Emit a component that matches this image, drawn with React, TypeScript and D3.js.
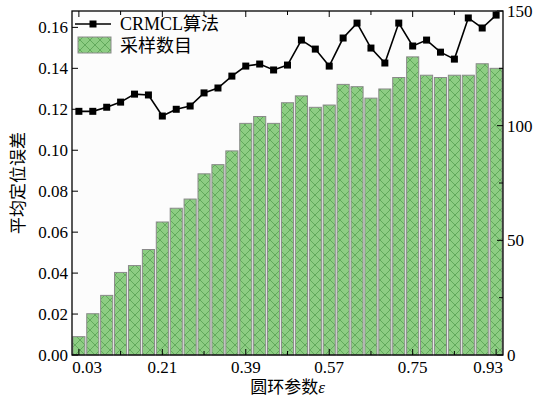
import React from 'react';
import * as d3 from 'd3';

// ring parameter epsilon (x categories)
const epsilons = ['0.03', '0.06', '0.09', '0.12', '0.15', '0.18', '0.21', '0.24', '0.27', '0.30', '0.33',
  '0.36', '0.39', '0.42', '0.45', '0.48', '0.51', '0.54', '0.57', '0.60', '0.63', '0.66', '0.69', '0.72',
  '0.75', '0.78', '0.81', '0.84', '0.87', '0.90', '0.93'];

// CRMCL mean localization error (left axis)
const crmclError = [0.119, 0.119, 0.121, 0.1235, 0.1274, 0.127, 0.1167, 0.120, 0.1216, 0.128, 0.1304,
  0.1362, 0.1411, 0.1421, 0.1392, 0.1416, 0.1538, 0.1494, 0.1411, 0.1548, 0.1621, 0.1499, 0.1426,
  0.1621, 0.1509, 0.1538, 0.1479, 0.1445, 0.1646, 0.1597, 0.166];

// number of samples (right axis)
const sampleCount = [8, 18, 26, 36, 39, 46, 58, 64, 68, 79, 83, 89, 101, 104, 101, 110, 113, 108, 109,
  118, 117, 112, 116, 121, 130, 122, 121, 122, 122, 127, 125];

const leftTicks = [0, 0.02, 0.04, 0.06, 0.08, 0.1, 0.12, 0.14, 0.16];
const rightTicks = [0, 50, 100, 150];
const rightMinor = [25, 75, 125];
const xLabelTicks = ['0.03', '0.21', '0.39', '0.57', '0.75', '0.93'];

const W = 536;
const H = 399;
const margin = { left: 72, right: 33, top: 11, bottom: 44 };
const serif = '"Liberation Serif", "Times New Roman", "Noto Sans CJK SC", serif';

const App = () => {
  const x0 = margin.left;
  const x1 = W - margin.right;
  const y0 = H - margin.bottom;
  const y1 = margin.top;

  const x = d3.scaleBand<string>().domain(epsilons).range([x0, x1]).paddingInner(0.13).paddingOuter(0.06);
  const yL = d3.scaleLinear().domain([0, 0.168]).range([y0, y1]);
  const yR = d3.scaleLinear().domain([0, 150]).range([y0, y1]);
  const cx = (e: string) => (x(e) as number) + x.bandwidth() / 2;

  const line = d3.line<number>()
    .x((_, i) => cx(epsilons[i]))
    .y(d => yL(d));

  const tickEvery3 = epsilons.filter((_, i) => i % 3 === 0);
  // keep the edge tick labels inside the frame, like the original
  const labelX = (e: string) => Math.min(Math.max(cx(e), x0 + 15), x1 - 15);

  return (
    <div style={{ position: 'fixed', left: 0, top: 0 }}>
      <svg width={W} height={H} style={{ display: 'block', background: '#fff' }} fontFamily={serif}>
        <defs>
          <pattern id="hatch" patternUnits="userSpaceOnUse" width={10} height={10}>
            <rect width={10} height={10} fill="#8dcd83" />
            <path d="M0,0L10,10M10,0L0,10" stroke="#4f9a4a" strokeWidth={0.7} />
          </pattern>
        </defs>
        <rect x={x0} y={y1} width={x1 - x0} height={y0 - y1} fill="#fcfcfc" />

        {/* bars: sample count */}
        {sampleCount.map((v, i) => (
          <rect key={i} x={x(epsilons[i])} y={yR(v)} width={x.bandwidth()} height={y0 - yR(v)}
            fill="url(#hatch)" stroke="#8a8a8a" strokeWidth={1} />
        ))}

        {/* CRMCL line */}
        <path d={line(crmclError) || ''} fill="none" stroke="#000" strokeWidth={1.6} />
        {crmclError.map((v, i) => (
          <rect key={i} x={cx(epsilons[i]) - 3.5} y={yL(v) - 3.5} width={7} height={7} fill="#000" />
        ))}

        {/* frame */}
        <rect x={x0} y={y1} width={x1 - x0} height={y0 - y1} fill="none" stroke="#000" strokeWidth={1.3} />

        {/* bottom/top ticks */}
        {tickEvery3.map(e => {
          const major = xLabelTicks.includes(e);
          const len = major ? 6 : 4;
          return (
            <g key={e}>
              <line x1={cx(e)} x2={cx(e)} y1={y0} y2={y0 - len} stroke="#000" strokeWidth={1} />
              <line x1={cx(e)} x2={cx(e)} y1={y1} y2={y1 + len} stroke="#000" strokeWidth={1} />
            </g>
          );
        })}
        {xLabelTicks.map(e => (
          <text key={e} x={labelX(e)} y={y0 + 18} fontSize={17} textAnchor="middle">{e}</text>
        ))}

        {/* left axis */}
        {leftTicks.map(t => (
          <g key={t}>
            <line x1={x0} x2={x0 + 6} y1={yL(t)} y2={yL(t)} stroke="#000" strokeWidth={1} />
            <text x={x0 - 4} y={yL(t) + 6} fontSize={17} textAnchor="end">{t.toFixed(2)}</text>
          </g>
        ))}

        {/* right axis */}
        {rightTicks.map(t => (
          <g key={t}>
            <line x1={x1} x2={x1 - 6} y1={yR(t)} y2={yR(t)} stroke="#000" strokeWidth={1} />
            <text x={x1 + 4} y={yR(t) + 6} fontSize={17} textAnchor="start">{t}</text>
          </g>
        ))}
        {rightMinor.map(t => (
          <line key={t} x1={x1} x2={x1 - 4} y1={yR(t)} y2={yR(t)} stroke="#000" strokeWidth={1} />
        ))}

        {/* axis titles */}
        <text transform={`translate(24,${(y0 + y1) / 2}) rotate(-90)`} fontSize={17} textAnchor="middle">平均定位误差</text>
        <text x={(x0 + x1) / 2} y={H - 6} fontSize={17} textAnchor="middle">
          圆环参数<tspan fontStyle="italic">ε</tspan>
        </text>

        {/* legend */}
        <g>
          <line x1={75} x2={111} y1={24} y2={24} stroke="#000" strokeWidth={1.6} />
          <rect x={89.5} y={20.5} width={7} height={7} fill="#000" />
          <text x={120} y={30} fontSize={18}>CRMCL算法</text>
          <rect x={78} y={37} width={33} height={16} fill="url(#hatch)" stroke="#8a8a8a" strokeWidth={1} />
          <text x={120} y={52} fontSize={18}>采样数目</text>
        </g>
      </svg>
    </div>
  );
};

export default App;
